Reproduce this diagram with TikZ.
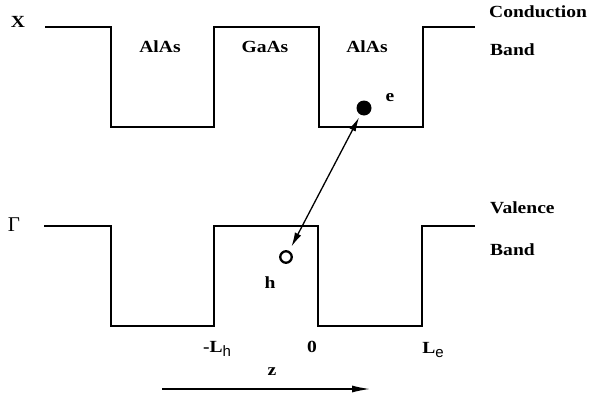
\documentclass[tikz,border=0pt]{standalone}
\usepackage{fontspec}
\setmainfont{Liberation Serif}[FakeStretch=1.15]
\newfontfamily\subfont{Liberation Sans}
\newfontfamily\greekfont{Liberation Serif}
\usetikzlibrary{arrows.meta}

\newcommand{\bandsub}[1]{\raisebox{-0.5ex}{\subfont\mdseries\fontsize{15}{16}\selectfont #1}}

\begin{document}
\begin{tikzpicture}[x=1pt, y=-1pt, font=\fontsize{17}{20}\selectfont\bfseries,
    thinband/.style={line width=1.3pt},
    thickband/.style={line width=2.6pt},
    lbl/.style={inner sep=0pt},
    pair/.style={line width=1.3pt, {Latex[length=14pt,width=7pt]}-{Latex[length=14pt,width=7pt]}},
    zaxis/.style={line width=1.3pt, -{Latex[length=18pt,width=7pt]}}]
    \useasboundingbox (0,0) rectangle (590,402);

    % Conduction band (X)
    \draw[thinband] (45,27) -- (111,27) -- (111,127) -- (214,127) -- (214,27) -- (319,27)
        -- (319,127) -- (423,127) -- (423,27) -- (475,27);

    % Valence band (Gamma)
    \draw[thickband] (44,226) -- (111,226) -- (111,326) -- (214,326) -- (214,226) -- (318,226)
        -- (318,326) -- (422,326) -- (422,226) -- (475,226);

    % Band labels
    \node[lbl] (X) at (18,22) {X};
    \node[lbl, font=\greekfont\fontsize{21}{22}\selectfont] (G) at (14,225) {Γ};
    \node[lbl, anchor=west] (cond) at (489,12) {Conduction};
    \node[lbl, anchor=west] (cband) at (490,50) {Band};
    \node[lbl, anchor=west] (val) at (490,208) {Valence};
    \node[lbl, anchor=west] (vband) at (490,250) {Band};

    % Layers
    \node[lbl] (alas1) at (160,47) {AlAs};
    \node[lbl] (gaas) at (265,47) {GaAs};
    \node[lbl] (alas2) at (367,47) {AlAs};

    % Electron and hole
    \node[circle, fill, inner sep=0pt, minimum size=15pt] (elec) at (364,108) {};
    \node[circle, draw, line width=2.3pt, inner sep=0pt, minimum size=11.5pt] (hole) at (286,257) {};
    \node[lbl] (elab) at (390,98) {e};
    \node[lbl] (hlab) at (270,283) {h};
    \draw[pair, shorten <=5pt, shorten >=3pt] (hole) -- (elec);

    % Positions on z
    \node[lbl] (mlh) at (217,349) {-L\bandsub{h}};
    \node[lbl] (zero) at (312,347) {0};
    \node[lbl] (le) at (433,350) {L\bandsub{e}};

    % z axis
    \node[lbl] (zlab) at (272,372) {z};
    \coordinate (zstart) at (162,389);
    \coordinate (zend) at (370,389);
    \draw[zaxis] (zstart) -- (zend);
\end{tikzpicture}
\end{document}
